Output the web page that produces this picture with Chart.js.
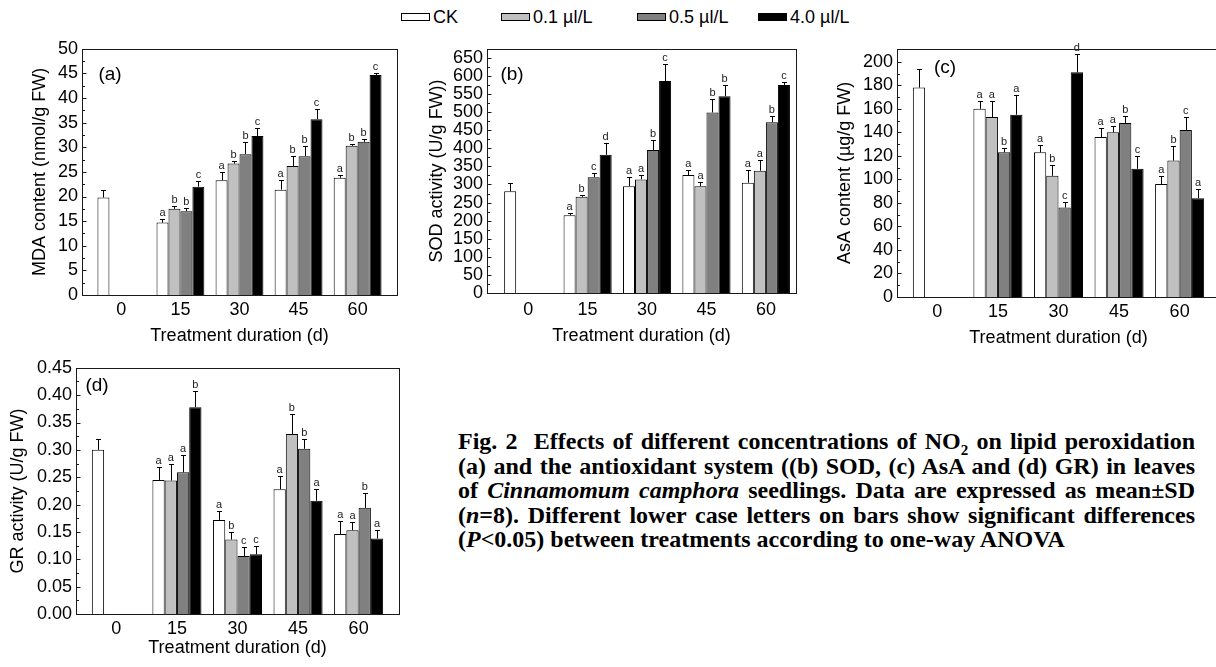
<!DOCTYPE html>
<html>
<head>
<meta charset="utf-8">
<script src="https://cdn.jsdelivr.net/npm/chart.js@4.4.0/dist/chart.umd.min.js"></script>
<style>
  body { margin: 0; width: 1216px; height: 667px; overflow: hidden; background: #fff; position: relative;
         font-family: 'Liberation Sans', Arial, sans-serif; color: #000; }
  .panel { position: absolute; }
  .legend-item { position: absolute; top: 7px; height: 20px; display: flex; align-items: center; font-size: 18px; white-space: nowrap; }
  .legend-item .box { width: 27px; height: 6px; border: 1px solid #000; margin-right: 3px; }
  #caption { position: absolute; left: 458px; top: 429px; width: 737px; font-family: 'Liberation Serif', 'Times New Roman', serif;
             font-weight: bold; font-size: 24px; line-height: 24.5px; }
  #caption div { text-align: justify; text-align-last: justify; }
  #caption div.last { text-align-last: left; }
</style>
</head>
<body>
<div id="legend"></div>
<div class="panel" id="wrapA"><canvas id="mdaChart"></canvas></div>
<div class="panel" id="wrapB"><canvas id="sodChart"></canvas></div>
<div class="panel" id="wrapC"><canvas id="asaChart"></canvas></div>
<div class="panel" id="wrapD"><canvas id="grChart"></canvas></div>
<div id="caption">
  <div>Fig. 2&nbsp; Effects of different concentrations of NO<sub style="font-size:15px;line-height:0">2</sub> on lipid peroxidation</div>
  <div>(a) and the antioxidant system ((b) SOD, (c) AsA and (d) GR) in leaves</div>
  <div>of <i>Cinnamomum camphora</i> seedlings. Data are expressed as mean±SD</div>
  <div>(<i>n</i>=8). Different lower case letters on bars show significant differences</div>
  <div class="last">(<i>P</i>&lt;0.05) between treatments according to one-way ANOVA</div>
</div>
<script>
// 处理天数 (x 轴)
const days = [0, 15, 30, 45, 60];
const seriesNames = ["CK", "0.1 µl/L", "0.5 µl/L", "4.0 µl/L"];
const fills = ["#ffffff", "#c0c0c0", "#808080", "#000000"];

// (a) MDA
const mdaCK = [19.8, 14.7, 23.3, 21.4, 23.8];
const mdaLow = [null, 17.5, 26.7, 26.2, 30.3];
const mdaMid = [null, 17.0, 28.6, 28.2, 31.1];
const mdaHigh = [null, 22.0, 32.3, 35.7, 44.7];
const mdaSdCK = [1.6, 0.8, 1.6, 2.0, 0.6];
const mdaSdLow = [null, 0.5, 0.5, 2.0, 0.3];
const mdaSdMid = [null, 0.7, 2.4, 2.1, 0.5];
const mdaSdHigh = [null, 1.2, 1.7, 2.1, 0.4];
const mdaLetters = [["", "a", "a", "a", "a"], ["", "b", "b", "b", "b"], ["", "b", "b", "b", "b"], ["", "c", "c", "c", "c"]];
const mdaTicks = [0, 5, 10, 15, 20, 25, 30, 35, 40, 45, 50];

// (b) SOD
const sodCK = [281, 215, 295, 326, 305];
const sodLow = [null, 266, 314, 295, 338];
const sodMid = [null, 320, 395, 499, 472];
const sodHigh = [null, 382, 586, 544, 575];
const sodSdCK = [24, 6, 25, 15, 36];
const sodSdLow = [null, 5, 11, 12, 30];
const sodSdMid = [null, 12, 28, 36, 16];
const sodSdHigh = [null, 32, 48, 31, 7];
const sodLetters = [["", "a", "a", "a", "a"], ["", "b", "a", "a", "a"], ["", "c", "b", "b", "b"], ["", "d", "c", "b", "c"]];
const sodTicks = [0, 50, 100, 150, 200, 250, 300, 350, 400, 450, 500, 550, 600, 650];

// (c) AsA
const asaCK = [178, 160, 123, 136, 96];
const asaLow = [null, 153, 103, 140, 116];
const asaMid = [null, 123, 76, 148, 142];
const asaHigh = [null, 155, 191, 109, 84];
const asaSdCK = [16, 7, 6, 8, 7];
const asaSdLow = [null, 14, 9, 5, 12];
const asaSdMid = [null, 4, 5, 6, 11];
const asaSdHigh = [null, 17, 16, 11, 8];
const asaLetters = [["", "a", "a", "a", "a"], ["", "a", "b", "a", "b"], ["", "b", "c", "b", "c"], ["", "a", "d", "c", "a"]];
const asaTicks = [0, 20, 40, 60, 80, 100, 120, 140, 160, 180, 200];

// (d) GR
const grCK = [0.300, 0.245, 0.172, 0.228, 0.146];
const grLow = [null, 0.244, 0.136, 0.329, 0.153];
const grMid = [null, 0.259, 0.106, 0.302, 0.194];
const grHigh = [null, 0.378, 0.109, 0.207, 0.138];
const grSdCK = [0.019, 0.023, 0.017, 0.024, 0.024];
const grSdLow = [null, 0.031, 0.014, 0.037, 0.016];
const grSdMid = [null, 0.031, 0.017, 0.018, 0.027];
const grSdHigh = [null, 0.030, 0.016, 0.021, 0.016];
const grLetters = [["", "a", "a", "a", "a"], ["", "a", "b", "b", "a"], ["", "a", "c", "b", "b"], ["", "b", "c", "a", "a"]];
const grTicks = [0, 0.05, 0.10, 0.15, 0.20, 0.25, 0.30, 0.35, 0.40, 0.45];

Chart.defaults.font.family = "'Liberation Sans', Arial, sans-serif";
Chart.defaults.color = "#000";

// 图例 (HTML)
const legendLeft = [401, 501, 637, 758];
const legendEl = document.getElementById("legend");
seriesNames.forEach(function (name, k) {
  const item = document.createElement("div");
  item.className = "legend-item";
  item.style.left = legendLeft[k] + "px";
  item.innerHTML = '<span class="box" style="background:' + fills[k] + '"></span>' + name;
  legendEl.appendChild(item);
});

// 误差线、显著性字母、边框和刻度
const errbarPlugin = {
  id: "errbars",
  afterDatasetsDraw(chart, args, opts) {
    const ctx = chart.ctx;
    const ys = chart.scales.y;
    const area = chart.chartArea;
    ctx.save();
    ctx.strokeStyle = "#000";
    ctx.lineWidth = 1;
    ctx.fillStyle = "#222";
    ctx.font = "11px 'Liberation Sans'";
    ctx.textAlign = "center";
    ctx.textBaseline = "bottom";
    chart.data.datasets.forEach(function (ds, di) {
      const meta = chart.getDatasetMeta(di);
      meta.data.forEach(function (bar, i) {
        const v = ds.data[i];
        if (v == null) return;
        const top = Math.round(ys.getPixelForValue(v + opts.sd[di][i])) + 0.5;
        const x = Math.round(bar.x) + 0.5;
        ctx.beginPath();
        ctx.moveTo(x, bar.y);
        ctx.lineTo(x, top);
        ctx.moveTo(x - 2.5, top);
        ctx.lineTo(x + 2.5, top);
        ctx.stroke();
        const letter = opts.letters[di][i];
        if (letter) ctx.fillText(letter, bar.x, top - 1);
      });
    });

    // 边框
    const l = Math.round(area.left) + 0.5, t = Math.round(area.top) + 0.5;
    const r = Math.round(area.right) + 0.5, b = Math.round(area.bottom) + 0.5;
    ctx.strokeStyle = "#1a1a1a";
    ctx.strokeRect(l, t, r - l, b - t);

    // 内向刻度 (主 + 次)
    ctx.beginPath();
    opts.yTicks.forEach(function (v, i) {
      const py = Math.round(ys.getPixelForValue(v)) + 0.5;
      ctx.moveTo(l, py);
      ctx.lineTo(l + 4, py);
      if (i < opts.yTicks.length - 1) {
        const pm = Math.round(ys.getPixelForValue((v + opts.yTicks[i + 1]) / 2)) + 0.5;
        ctx.moveTo(l, pm);
        ctx.lineTo(l + 2.5, pm);
      }
    });
    ctx.stroke();

    // 面板标签
    ctx.fillStyle = "#000";
    ctx.font = "19px 'Liberation Sans'";
    ctx.textAlign = "center";
    ctx.textBaseline = "middle";
    ctx.fillText(opts.tag, area.left + opts.tagAt[0], area.top + opts.tagAt[1]);
    ctx.restore();
  },
};

const panels = [
  { id: "mdaChart", wrap: "wrapA", tag: "(a)", tagAt: [28, 26], title: "MDA content (nmol/g FW)",
    box: [20, 34, 405, 352], plot: [82, 46, 397, 295], yTitleX: 40, xLabelY: 310, xTitleY: 336,
    xRange: [-10, 70], yMax: 50, yTicks: mdaTicks, decimals: 0,
    series: [mdaCK, mdaLow, mdaMid, mdaHigh], sd: [mdaSdCK, mdaSdLow, mdaSdMid, mdaSdHigh], letters: mdaLetters },
  { id: "sodChart", wrap: "wrapB", tag: "(b)", tagAt: [25, 26], title: "SOD activity (U/g FW))",
    box: [420, 34, 805, 352], plot: [487, 46, 796, 293], yTitleX: 437, xLabelY: 310, xTitleY: 336,
    xRange: [-10.4, 67.6], yMax: 675, yTicks: sodTicks, decimals: 0,
    series: [sodCK, sodLow, sodMid, sodHigh], sd: [sodSdCK, sodSdLow, sodSdMid, sodSdHigh], letters: sodLetters },
  { id: "asaChart", wrap: "wrapC", tag: "(c)", tagAt: [48, 19], title: "AsA content (µg/g FW)",
    box: [828, 34, 1228, 354], plot: [897, 46, 1220, 297], yTitleX: 845, xLabelY: 312, xTitleY: 338,
    xRange: [-10, 70], yMax: 211, yTicks: asaTicks, decimals: 0,
    series: [asaCK, asaLow, asaMid, asaHigh], sd: [asaSdCK, asaSdLow, asaSdMid, asaSdHigh], letters: asaLetters },
  { id: "grChart", wrap: "wrapD", tag: "(d)", tagAt: [21, 18], title: "GR activity (U/g FW)",
    box: [2, 353, 408, 667], plot: [76, 365, 399, 614], yTitleX: 18, xLabelY: 629, xTitleY: 648,
    xRange: [-10, 70], yMax: 0.45, yTicks: grTicks, decimals: 2,
    series: [grCK, grLow, grMid, grHigh], sd: [grSdCK, grSdLow, grSdMid, grSdHigh], letters: grLetters },
];

const lh = 18 * 1.2;
panels.forEach(function (p) {
  const wrap = document.getElementById(p.wrap);
  wrap.style.left = p.box[0] + "px";
  wrap.style.top = p.box[1] + "px";
  wrap.style.width = (p.box[2] - p.box[0]) + "px";
  wrap.style.height = (p.box[3] - p.box[1]) + "px";

  new Chart(document.getElementById(p.id), {
    type: "bar",
    data: {
      labels: days,
      datasets: seriesNames.map(function (name, k) {
        return {
          label: name,
          data: p.series[k],
          backgroundColor: fills[k],
          borderColor: "#000",
          borderWidth: 1,
        };
      }),
    },
    options: {
      responsive: true,
      maintainAspectRatio: false,
      animation: false,
      categoryPercentage: 0.81,
      barPercentage: 1,
      layout: { padding: { left: 0, top: p.plot[1] - p.box[1], right: p.box[2] - p.plot[2], bottom: 0 } },
      scales: {
        x: {
          type: "linear",
          min: p.xRange[0],
          max: p.xRange[1],
          offset: false,
          grid: { display: false, drawTicks: false },
          border: { display: false },
          afterBuildTicks: function (ax) { ax.ticks = days.map(function (v) { return { value: v }; }); },
          afterFit: function (ax) { ax.height = p.box[3] - p.plot[3]; },
          ticks: { autoSkip: false, maxRotation: 0, padding: p.xLabelY - p.plot[3] - lh / 2, font: { size: 18 },
                   callback: function (v) { return String(v); } },
          title: { display: true, text: "Treatment duration (d)", font: { size: 18 },
                   padding: { top: 0, bottom: p.box[3] - p.xTitleY - lh / 2 } },
        },
        y: {
          min: 0,
          max: p.yMax,
          grid: { display: false, drawTicks: false },
          border: { display: false },
          afterBuildTicks: function (ax) { ax.ticks = p.yTicks.map(function (v) { return { value: v }; }); },
          afterFit: function (ax) { ax.width = p.plot[0] - p.box[0]; },
          ticks: { autoSkip: false, padding: 4, font: { size: 18 },
                   callback: function (v) { return v.toFixed(p.decimals); } },
          title: { display: true, text: p.title, font: { size: 18 },
                   padding: { top: p.yTitleX - p.box[0] - lh / 2, bottom: 0 } },
        },
      },
      plugins: {
        legend: { display: false },
        tooltip: { enabled: false },
        errbars: { sd: p.sd, letters: p.letters, tag: p.tag, tagAt: p.tagAt, yTicks: p.yTicks },
      },
    },
    plugins: [errbarPlugin],
  });
});
</script>
</body>
</html>
